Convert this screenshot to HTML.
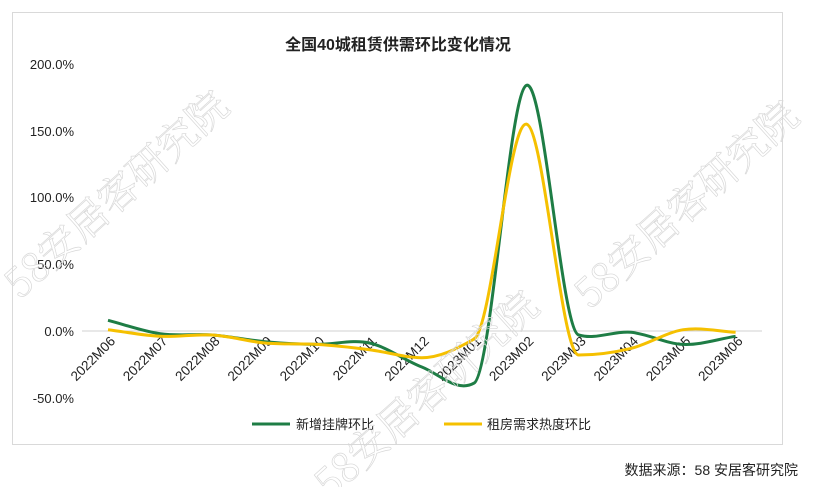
<!DOCTYPE html>
<html><head><meta charset="utf-8"><style>
body{margin:0;background:#fff;}
svg{display:block;font-family:"Liberation Sans","Noto Sans CJK SC",sans-serif;}
</style></head><body>
<svg width="830" height="487" viewBox="0 0 830 487" xmlns="http://www.w3.org/2000/svg">
<rect x="0" y="0" width="830" height="487" fill="#fff"/>
<rect x="12.5" y="12.5" width="770" height="432" fill="none" stroke="#d9d9d9" stroke-width="1"/>
<text x="398" y="50" text-anchor="middle" font-size="16" font-weight="bold" fill="#222">全国40城租赁供需环比变化情况</text>
<g font-size="13" fill="#222" text-anchor="end">
<text x="74" y="69">200.0%</text>
<text x="74" y="136">150.0%</text>
<text x="74" y="202">100.0%</text>
<text x="74" y="269">50.0%</text>
<text x="74" y="336">0.0%</text>
<text x="74" y="403">-50.0%</text>
</g>
<line x1="82" y1="331" x2="762" y2="331" stroke="#d0d0d0" stroke-width="1"/>
<g font-size="13.5" fill="#222" text-anchor="end">
<text transform="translate(116,342) rotate(-45)">2022M06</text>
<text transform="translate(168.3,342) rotate(-45)">2022M07</text>
<text transform="translate(220.6,342) rotate(-45)">2022M08</text>
<text transform="translate(272.9,342) rotate(-45)">2022M09</text>
<text transform="translate(325.2,342) rotate(-45)">2022M10</text>
<text transform="translate(377.5,342) rotate(-45)">2022M11</text>
<text transform="translate(429.8,342) rotate(-45)">2022M12</text>
<text transform="translate(482.1,342) rotate(-45)">2023M01</text>
<text transform="translate(534.4,342) rotate(-45)">2023M02</text>
<text transform="translate(586.7,342) rotate(-45)">2023M03</text>
<text transform="translate(639,342) rotate(-45)">2023M04</text>
<text transform="translate(691.3,342) rotate(-45)">2023M05</text>
<text transform="translate(743.6,342) rotate(-45)">2023M06</text>
</g>
<path fill="none" stroke="#1e7d45" stroke-width="3" d="M108,320.3 C125.4,324.8 142.9,331.3 160.3,333.7 C177.7,336.2 195.2,333.7 212.6,335.0 C230.0,336.3 247.5,340.1 264.9,341.7 C282.3,343.3 299.8,344.2 317.2,344.4 C334.6,344.6 352.1,339.2 369.5,343.0 C386.9,346.8 404.4,360.3 421.8,367.0 C439.2,373.7 456.7,393.1 474.1,383.1 C491.5,373.1 509.0,93.4 526.4,85.4 C543.8,77.4 561.3,330.0 578.7,335.0 C596.1,340.0 613.6,330.7 631,332.3 C648.4,333.9 665.9,343.7 683.3,344.4 C700.7,345.1 718.2,339.0 735.6,336.3"/>
<path fill="none" stroke="#f5c000" stroke-width="3" d="M108,329.7 C125.4,331.9 142.9,335.4 160.3,336.3 C177.7,337.2 195.2,333.9 212.6,335.0 C230.0,336.1 247.5,341.4 264.9,343.0 C282.3,344.6 299.8,343.3 317.2,344.4 C334.6,345.5 352.1,347.5 369.5,349.7 C386.9,351.9 404.4,357.7 421.8,357.7 C439.2,357.7 456.7,349.0 474.1,339.0 C491.5,329.0 509.0,121.4 526.4,124.1 C543.8,126.8 561.3,355.0 578.7,355.0 C596.1,355.0 613.6,352.6 631,348.4 C648.4,344.2 665.9,332.4 683.3,329.7 C700.7,327.0 718.2,331.4 735.6,332.3"/>
<line x1="252" y1="424" x2="290" y2="424" stroke="#1e7d45" stroke-width="3"/>
<text x="296" y="429" font-size="13" fill="#222">新增挂牌环比</text>
<line x1="444" y1="424" x2="482" y2="424" stroke="#f5c000" stroke-width="3"/>
<text x="487" y="429" font-size="13" fill="#222">租房需求热度环比</text>
<text x="798" y="475" text-anchor="end" font-size="14" fill="#222">数据来源：58 安居客研究院</text>
<g font-family="'Noto Serif CJK SC',serif" font-size="40" fill="none" stroke="#d8d8d8" stroke-width="0.7">
<text transform="translate(20,300) rotate(-42)">58安居客研究院</text>
<text transform="translate(590,310) rotate(-42)">58安居客研究院</text>
<text transform="translate(330,500) rotate(-42)">58安居客研究院</text>
</g>
</svg>
</body></html>
